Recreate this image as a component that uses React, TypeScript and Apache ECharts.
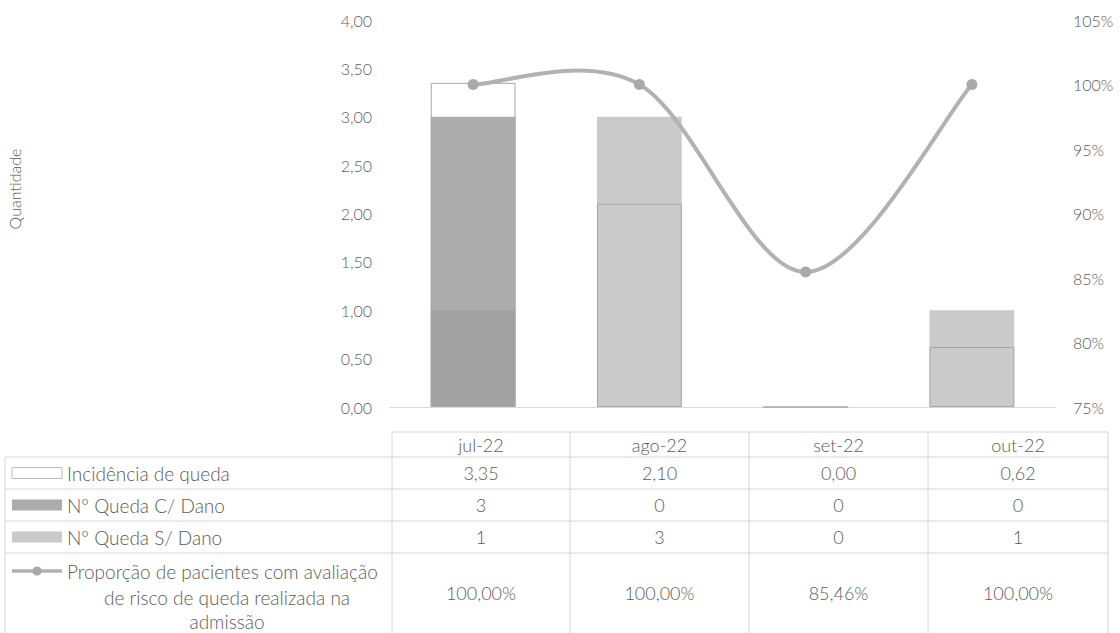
import React, { useEffect, useRef } from "react";
import * as echarts from "echarts";

const categories = ["jul-22", "ago-22", "set-22", "out-22"];
const incidencia = [3.35, 2.1, 0.0, 0.62];
const quedaComDano = [3, 0, 0, 0];
const quedaSemDano = [1, 3, 0, 1];
const proporcao = [100.0, 100.0, 85.46, 100.0];

const leftTicks = { min: 0, max: 4, interval: 0.5 };
const rightTicks = { min: 75, max: 105, interval: 5 };

const seriesNames = [
  "Incidência de queda",
  "Nº Queda C/ Dano",
  "Nº Queda S/ Dano",
  "Proporção de pacientes com avaliação",
];
const proporcaoExtraLines = ["de risco de queda realizada na", "admissão"];
const yAxisName = "Quantidade";

const TEXT = "#5c5c5c";
const FONT = "Lato";
const WEIGHT = 300;
const GRIDLINE = "#d6d6d6";
const C_DANO = "#acacac";
const S_DANO = "rgba(150,150,150,0.5)";
const LINE = "#b2b2b2";
const MARK = "#a9a9a9";

const fmt2 = (v: number) => v.toFixed(2).replace(".", ",");
const fmtPct = (v: number) => v.toFixed(2).replace(".", ",") + "%";

export default function App() {
  const ref = useRef<HTMLDivElement>(null);
  useEffect(() => {
    if (!ref.current) return;
    const chart = echarts.init(ref.current, undefined, { renderer: "svg" });

    const colEdges = [392, 570, 749, 928, 1108];
    const rowEdges = [432, 457, 489, 521, 553, 633];
    const tableLeft = 5;
    const g: any[] = [];
    g.push({ type: "line", shape: { x1: colEdges[0], y1: rowEdges[0], x2: colEdges[4], y2: rowEdges[0] }, style: { stroke: GRIDLINE, lineWidth: 1 } });
    for (let i = 1; i < 5; i++) {
      g.push({ type: "line", shape: { x1: tableLeft, y1: rowEdges[i], x2: colEdges[4], y2: rowEdges[i] }, style: { stroke: GRIDLINE, lineWidth: 1 } });
    }
    colEdges.forEach((x) => {
      g.push({ type: "line", shape: { x1: x, y1: rowEdges[0], x2: x, y2: 633 }, style: { stroke: GRIDLINE, lineWidth: 1 } });
    });
    g.push({ type: "line", shape: { x1: tableLeft, y1: rowEdges[1], x2: tableLeft, y2: 633 }, style: { stroke: GRIDLINE, lineWidth: 1 } });

    const cellText = (text: string, x: number, y: number, size: number, align = "center") => ({
      type: "text",
      x,
      y,
      style: { text, fill: TEXT, font: `${WEIGHT} ${size}px ${FONT}`, textAlign: align, textVerticalAlign: "middle" },
    });

    const rowsValues = [
      categories,
      incidencia.map(fmt2),
      quedaComDano.map(String),
      quedaSemDano.map(String),
      proporcao.map(fmtPct),
    ];
    rowsValues.forEach((vals, r) => {
      const yc = (rowEdges[r] + rowEdges[r + 1]) / 2;
      vals.forEach((v, c) => {
        g.push(cellText(v, (colEdges[c] + colEdges[c + 1]) / 2, yc, 18));
      });
    });

    const keyX = 12, keyW = 50, keyH = 11;
    const rowCenter = (r: number) => (rowEdges[r] + rowEdges[r + 1]) / 2;
    g.push({ type: "rect", shape: { x: keyX, y: rowCenter(1) - keyH / 2, width: keyW, height: keyH }, style: { fill: "#fff", stroke: "#bdbdbd", lineWidth: 1 } });
    g.push({ type: "rect", shape: { x: keyX, y: rowCenter(2) - keyH / 2, width: keyW, height: keyH }, style: { fill: C_DANO } });
    g.push({ type: "rect", shape: { x: keyX, y: rowCenter(3) - keyH / 2, width: keyW, height: keyH }, style: { fill: "#cacaca" } });
    g.push(cellText(seriesNames[0], 67, rowCenter(1), 19, "left"));
    g.push(cellText(seriesNames[1], 67, rowCenter(2), 19, "left"));
    g.push(cellText(seriesNames[2], 67, rowCenter(3), 19, "left"));
    const pY = [571, 597, 621];
    g.push({ type: "line", shape: { x1: keyX, y1: pY[0], x2: keyX + keyW, y2: pY[0] }, style: { stroke: LINE, lineWidth: 3.5 } });
    g.push({ type: "circle", shape: { cx: keyX + keyW / 2, cy: pY[0], r: 4.5 }, style: { fill: MARK } });
    g.push(cellText(seriesNames[3], 67, pY[0], 19, "left"));
    g.push(cellText(proporcaoExtraLines[0], 227, pY[1], 19));
    g.push(cellText(proporcaoExtraLines[1], 227, pY[2], 19));

    g.push({
      type: "text",
      x: 14,
      y: 189,
      rotation: Math.PI / 2,
      style: { text: yAxisName, fill: TEXT, font: `${WEIGHT} 16px ${FONT}`, textAlign: "center", textVerticalAlign: "middle" },
    });

    const renderSmoothLine = (params: any, api: any) => {
      if (params.dataIndex !== 0) return null;
      const pts = proporcao.map((v, i) => api.coord([i, v]));
      const n = pts.length;
      const P = (i: number) => pts[Math.max(0, Math.min(n - 1, i))];
      let d = `M${pts[0][0]},${pts[0][1]}`;
      for (let i = 0; i < n - 1; i++) {
        const p0 = P(i - 1), p1 = P(i), p2 = P(i + 1), p3 = P(i + 2);
        const c1 = [p1[0] + (p2[0] - p0[0]) / 6, p1[1] + (p2[1] - p0[1]) / 6];
        const c2 = [p2[0] - (p3[0] - p1[0]) / 6, p2[1] - (p3[1] - p1[1]) / 6];
        d += ` C${c1[0]},${c1[1]} ${c2[0]},${c2[1]} ${p2[0]},${p2[1]}`;
      }
      const children: any[] = [
        { type: "path", shape: { pathData: d }, style: { stroke: LINE, lineWidth: 4, fill: "none" } },
      ];
      pts.forEach((p) => {
        children.push({ type: "circle", shape: { cx: p[0], cy: p[1], r: 5.5 }, style: { fill: MARK } });
      });
      return { type: "group", children };
    };

    chart.setOption({
      animation: false,
      grid: { left: 390, right: 65, top: 20, bottom: 226, containLabel: false },
      xAxis: {
        type: "category",
        data: categories,
        axisLine: { show: true, lineStyle: { color: "#d9d9d9", width: 1 } },
        axisTick: { show: false },
        axisLabel: { show: false },
      },
      yAxis: [
        {
          type: "value",
          min: leftTicks.min,
          max: leftTicks.max,
          interval: leftTicks.interval,
          splitLine: { show: false },
          axisLine: { show: false },
          axisTick: { show: false },
          axisLabel: { color: TEXT, fontFamily: FONT, fontWeight: WEIGHT, fontSize: 16, margin: 18, formatter: (v: number) => fmt2(v) },
        },
        {
          type: "value",
          min: rightTicks.min,
          max: rightTicks.max,
          interval: rightTicks.interval,
          splitLine: { show: false },
          axisLine: { show: false },
          axisTick: { show: false },
          axisLabel: { color: TEXT, fontFamily: FONT, fontWeight: WEIGHT, fontSize: 16, margin: 18, formatter: (v: number) => v + "%" },
        },
      ],
      series: [
        {
          name: seriesNames[1],
          type: "bar",
          data: quedaComDano,
          barWidth: "51%",
          barGap: "-100%",
          itemStyle: { color: C_DANO },
        },
        {
          name: seriesNames[2],
          type: "bar",
          data: quedaSemDano,
          barWidth: "51%",
          barGap: "-100%",
          itemStyle: { color: S_DANO },
        },
        {
          name: seriesNames[0],
          type: "bar",
          data: incidencia,
          barWidth: "51%",
          barGap: "-100%",
          itemStyle: { color: "rgba(255,255,255,0)", borderColor: "#a8a8a8", borderWidth: 1 },
        },
        {
          name: seriesNames[3],
          type: "custom",
          yAxisIndex: 1,
          data: proporcao.map((v, i) => [i, v]),
          renderItem: renderSmoothLine,
          z: 5,
        },
      ],
      graphic: g,
    });
    return () => chart.dispose();
  }, []);
  return <div ref={ref} style={{ position: "fixed", left: 0, top: 0, width: 1120, height: 633, background: "#fff" }} />;
}
